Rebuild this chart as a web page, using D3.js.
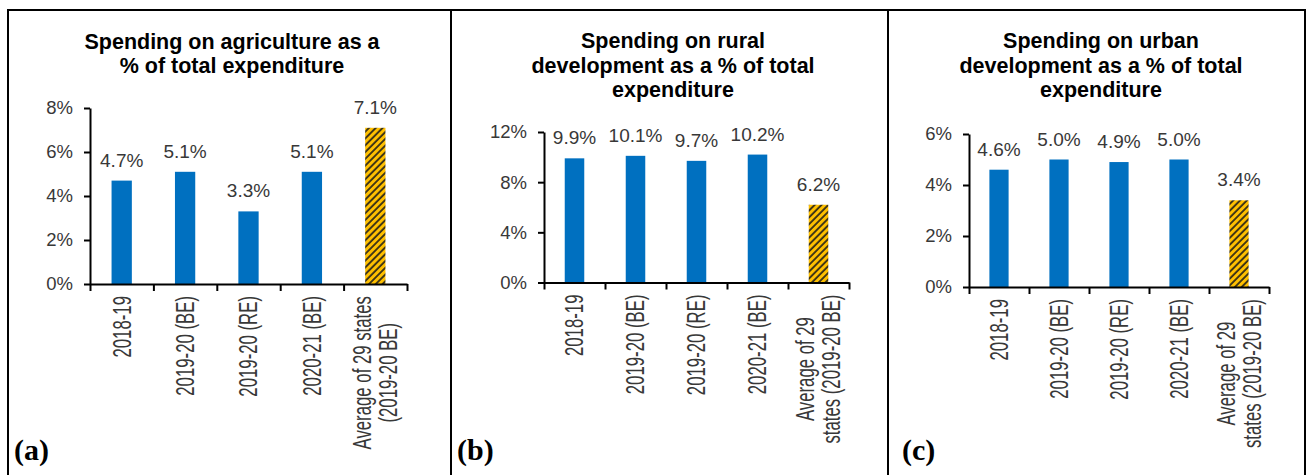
<!DOCTYPE html>
<html>
<head>
<meta charset="utf-8">
<script src="https://cdn.jsdelivr.net/npm/d3@7/dist/d3.min.js"></script>
<style>
  html, body { margin: 0; padding: 0; background: #fff; }
  svg { display: block; }
</style>
</head>
<body>
<svg id="chart" width="1308" height="475"></svg>
<script>
// ---------------- data ----------------
const categories = ["2018-19", "2019-20 (BE)", "2019-20 (RE)", "2020-21 (BE)", "Average of 29 states (2019-20 BE)"];
const catLinesA = [["2018-19"], ["2019-20 (BE)"], ["2019-20 (RE)"], ["2020-21 (BE)"], ["Average of 29 states", "(2019-20 BE)"]];
const catLinesBC = [["2018-19"], ["2019-20 (BE)"], ["2019-20 (RE)"], ["2020-21 (BE)"], ["Average of 29", "states (2019-20 BE)"]];
const agricultureValues = [4.7, 5.1, 3.3, 5.1, 7.1];
const ruralValues = [9.9, 10.1, 9.7, 10.2, 6.2];
const urbanValues = [4.6, 5.0, 4.9, 5.0, 3.4];
const agricultureTicks = [0, 2, 4, 6, 8];
const ruralTicks = [0, 4, 8, 12];
const urbanTicks = [0, 2, 4, 6];
const titleA = ["Spending on agriculture as a", "% of total expenditure"];
const titleB = ["Spending on rural", "development as a % of total", "expenditure"];
const titleC = ["Spending on urban", "development as a % of total", "expenditure"];
const panelLetters = ["(a)", "(b)", "(c)"];

// ---------------- drawing ----------------
const svg = d3.select("#chart");
const defs = svg.append("defs");
const pw = 4.8;
const pat = defs.append("pattern")
  .attr("id", "hatch")
  .attr("patternUnits", "userSpaceOnUse")
  .attr("width", pw).attr("height", pw)
  .attr("patternTransform", "rotate(45)");
pat.append("rect").attr("width", pw).attr("height", pw).attr("fill", "#FFC000");
pat.append("line").attr("x1", 1).attr("y1", 0).attr("x2", 1).attr("y2", pw)
  .attr("stroke", "#1a1a1a").attr("stroke-width", 1.6);

// frame
svg.append("rect").attr("x", 8).attr("y", 10).attr("width", 1297).attr("height", 480)
  .attr("fill", "none").attr("stroke", "#000").attr("stroke-width", 2);
[451, 888].forEach(x => svg.append("line").attr("x1", x).attr("x2", x).attr("y1", 10).attr("y2", 480)
  .attr("stroke", "#000").attr("stroke-width", 2));

const panels = [
  { values: agricultureValues, ticks: agricultureTicks, title: titleA, lines: catLinesA,
    x0: 90, x1: 407, yTop: 108, yBot: 284, max: 8, tcx: 232, tBase: 48.5, letterX: 14 },
  { values: ruralValues, ticks: ruralTicks, title: titleB, lines: catLinesBC,
    x0: 544, x1: 849, yTop: 132, yBot: 282.5, max: 12, tcx: 673, tBase: 48, letterX: 457 },
  { values: urbanValues, ticks: urbanTicks, title: titleC, lines: catLinesBC,
    x0: 969, x1: 1269, yTop: 134, yBot: 287, max: 6, tcx: 1101, tBase: 48, letterX: 902 }
];

const textColor = "#383838";

panels.forEach((p, pi) => {
  const g = svg.append("g");
  const x = d3.scaleBand().domain(categories).range([p.x0, p.x1]).paddingInner(0.68).paddingOuter(0.34);
  const y = d3.scaleLinear().domain([0, p.max]).range([p.yBot, p.yTop]);
  const xb = d3.scaleLinear().domain([0, categories.length]).range([p.x0, p.x1]);

  // title
  const t = g.append("text")
    .attr("x", p.tcx).attr("y", p.tBase)
    .attr("text-anchor", "middle")
    .attr("font-family", "'Liberation Sans', Arial, sans-serif")
    .attr("font-weight", "bold").attr("font-size", 21.5).attr("fill", "#000");
  p.title.forEach((line, i) => t.append("tspan").attr("x", p.tcx).attr("dy", i === 0 ? 0 : 24.5).text(line));

  // bars
  g.selectAll("rect.bar").data(p.values).join("rect")
    .attr("class", "bar")
    .attr("x", (d, i) => x(categories[i]))
    .attr("width", x.bandwidth())
    .attr("y", d => y(d))
    .attr("height", d => y(0) - y(d))
    .attr("fill", (d, i) => i === categories.length - 1 ? "url(#hatch)" : "#0070C0");

  // data labels
  g.selectAll("text.val").data(p.values).join("text")
    .attr("class", "val")
    .attr("x", (d, i) => x(categories[i]) + x.bandwidth() / 2)
    .attr("y", d => y(d) - 14)
    .attr("text-anchor", "middle")
    .attr("font-family", "'Liberation Sans', Arial, sans-serif")
    .attr("font-size", 19).attr("fill", textColor)
    .text(d => d.toFixed(1) + "%");

  // y axis
  const ya = g.append("g").attr("transform", `translate(${p.x0},0)`)
    .call(d3.axisLeft(y).tickValues(p.ticks).tickFormat(d => d + "%").tickSizeInner(6).tickSizeOuter(0).tickPadding(11));
  ya.select(".domain").attr("stroke", "#000").attr("stroke-width", 2);
  ya.selectAll(".tick line").attr("stroke", "#000").attr("stroke-width", 2);
  ya.selectAll(".tick text").attr("font-family", "'Liberation Sans', Arial, sans-serif")
    .attr("font-size", 18.5).attr("fill", textColor);

  // x axis
  const xa = g.append("g").attr("transform", `translate(0,${p.yBot})`)
    .call(d3.axisBottom(xb).tickValues(d3.range(categories.length + 1)).tickFormat("").tickSizeInner(7).tickSizeOuter(0));
  xa.select(".domain").attr("stroke", "#000").attr("stroke-width", 2);
  xa.selectAll(".tick line").attr("stroke", "#000").attr("stroke-width", 2);

  // category labels (rotated)
  const gap = 12;
  p.lines.forEach((lines, i) => {
    const cx = x(categories[i]) + x.bandwidth() / 2;
    const lg = g.append("g");
    const n = lines.length;
    const lh = 26;
    const txt = lg.append("text")
      .attr("font-family", "'Liberation Sans', Arial, sans-serif")
      .attr("font-size", 26).attr("fill", textColor)
      .attr("text-anchor", "middle");
    lines.forEach((ln, k) => {
      txt.append("tspan").attr("x", 0).attr("y", (k - (n - 1) / 2) * lh).attr("dominant-baseline", "central").text(ln);
    });
    let maxLen = 0;
    txt.selectAll("tspan").each(function () { maxLen = Math.max(maxLen, this.getComputedTextLength()); });
    const sx = 0.645;
    const half = maxLen * sx / 2;
    lg.attr("transform", `translate(${cx},${p.yBot + gap + half}) rotate(-90) scale(${sx},1)`);
  });

  // panel letter
  svg.append("text").attr("x", p.letterX).attr("y", 460)
    .attr("font-family", "'Liberation Serif', 'Times New Roman', serif")
    .attr("font-weight", "bold").attr("font-size", 30).attr("fill", "#000")
    .text(panelLetters[pi]);
});
</script>
</body>
</html>
